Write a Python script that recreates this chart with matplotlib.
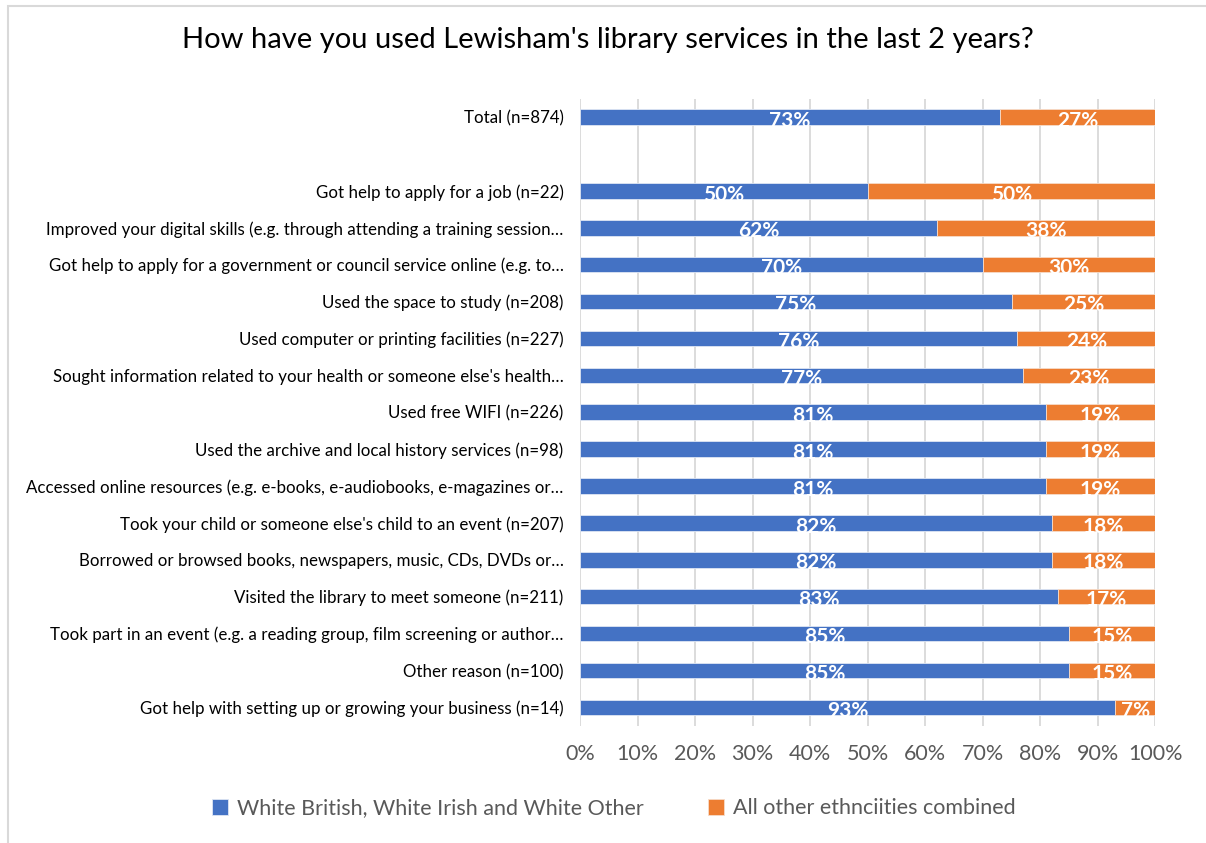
import matplotlib.pyplot as plt
import numpy as np
from matplotlib.patches import Rectangle

# Survey answers, top to bottom ('' leaves a blank row under the total)
categories = [
    'Total (n=874)',
    '',
    'Got help to apply for a job (n=22)',
    'Improved your digital skills (e.g. through attending a training session\u2026',
    'Got help to apply for a government or council service online (e.g. to\u2026',
    'Used the space to study (n=208)',
    'Used computer or printing facilities (n=227)',
    "Sought information related to your health or someone else's health\u2026",
    'Used free WIFI (n=226)',
    'Used the archive and local history services (n=98)',
    'Accessed online resources (e.g. e-books, e-audiobooks, e-magazines or\u2026',
    "Took your child or someone else's child to an event (n=207)",
    'Borrowed or browsed books, newspapers, music, CDs, DVDs or\u2026',
    'Visited the library to meet someone (n=211)',
    'Took part in an event (e.g. a reading group, film screening or author\u2026',
    'Other reason (n=100)',
    'Got help with setting up or growing your business (n=14)',
]
white = [73, None, 50, 62, 70, 75, 76, 77, 81, 81, 81, 82, 82, 83, 85, 85, 93]
other = [27, None, 50, 38, 30, 25, 24, 23, 19, 19, 19, 18, 18, 17, 15, 15, 7]
series_names = ['White British, White Irish and White Other',
                'All other ethnciities combined']

blue = '#4472C4'
orange = '#ED7D31'
plt.rcParams['font.family'] = ['Lato', 'DejaVu Sans']

fig = plt.figure(figsize=(12.06, 8.43), dpi=100)
ax = fig.add_axes([0.481, 0.139, 0.477, 0.744])

y = np.arange(len(categories))
w = np.array([np.nan if v is None else v for v in white], dtype=float)
o = np.array([np.nan if v is None else v for v in other], dtype=float)

bar_h = 0.42
b1 = ax.barh(y, w, height=bar_h, color=blue, edgecolor='#dfe6f3', linewidth=0.6,
             label=series_names[0], zorder=2)
b2 = ax.barh(y, o, left=w, height=bar_h, color=orange, edgecolor='#f7dcc9', linewidth=0.6,
             label=series_names[1], zorder=2)

# White value labels in the middle of each segment
for i in range(len(categories)):
    if np.isnan(w[i]):
        continue
    ax.text(w[i] / 2, y[i] + 0.1, f'{w[i]:.0f}%', ha='center', va='center',
            color='white', fontsize=15, fontweight='bold', zorder=3)
    ax.text(w[i] + o[i] / 2, y[i] + 0.1, f'{o[i]:.0f}%', ha='center', va='center',
            color='white', fontsize=15, fontweight='bold', zorder=3)

ax.set_xlim(0, 100)
ax.set_ylim(len(categories) - 0.5, -0.5)
ax.set_xticks(np.arange(0, 101, 10))
ax.set_xticklabels([f'{t}%' for t in range(0, 101, 10)])
ax.set_yticks(y)
ax.set_yticklabels(categories)
ax.tick_params(axis='y', length=0, pad=12, labelsize=12.2, labelcolor='#000000')
ax.tick_params(axis='x', length=0, pad=13, labelsize=15.5, labelcolor='#595959')

ax.grid(axis='x', color='#d9d9d9', linewidth=1.3, zorder=0)
ax.set_axisbelow(True)
for s in ax.spines.values():
    s.set_visible(False)

fig.suptitle("How have you used Lewisham's library services in the last 2 years?",
             x=0.504, y=0.968, fontsize=21, color='#000000')

fig.legend(handles=[b1, b2], labels=series_names, loc='center', ncol=2,
           bbox_to_anchor=(0.509, 0.041), frameon=False, fontsize=15.5,
           labelcolor='#595959', handlelength=0.75, handleheight=0.75,
           handletextpad=0.4, columnspacing=3.0)

# Light chart-area border running off the right and bottom edges
fig.patches.append(Rectangle((8 / 1206, -0.1), 1.2, 1 - 6 / 843 + 0.1,
                             transform=fig.transFigure, fill=False,
                             edgecolor='#d9d9d9', linewidth=1.5))

fig.savefig('out.png', dpi=100)
